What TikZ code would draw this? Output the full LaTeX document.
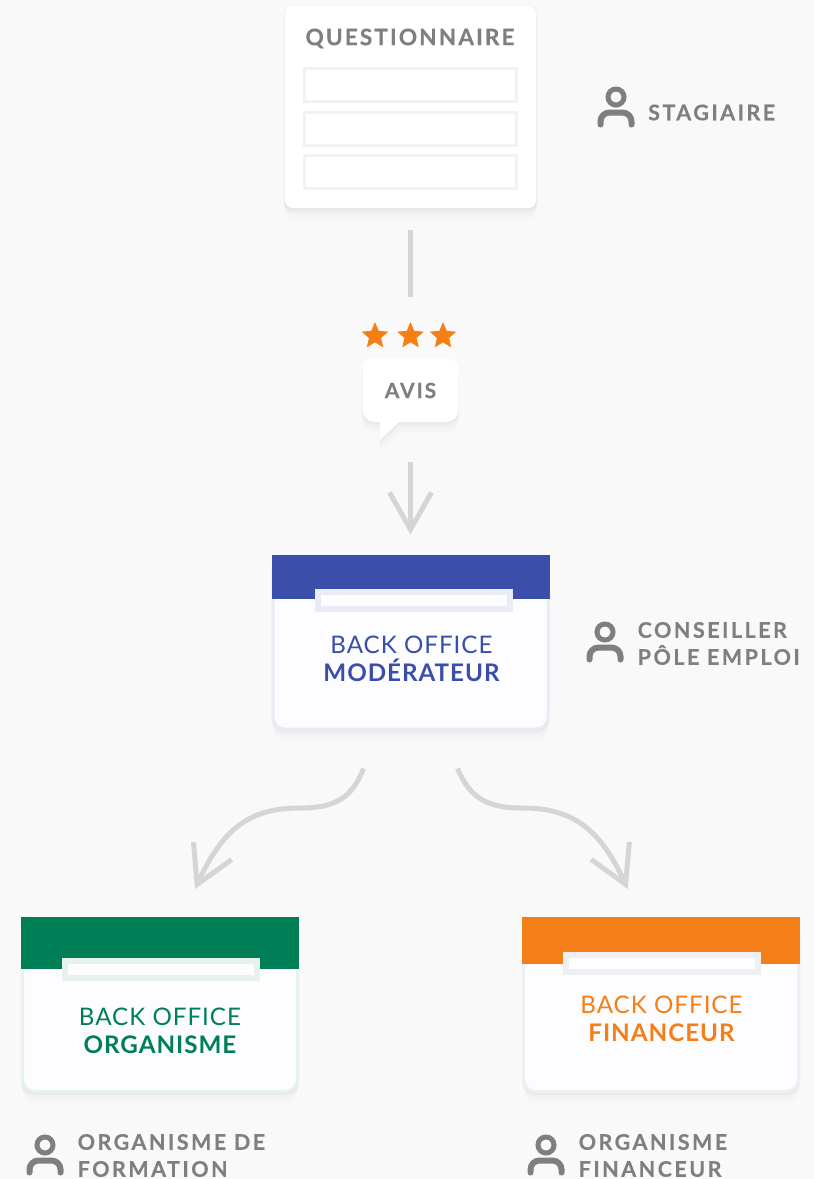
\documentclass[tikz,border=0pt]{standalone}
\usepackage{fontspec}
\setmainfont{Lato}
\newfontfamily\titlefont[LetterSpace=9, BoldFeatures={FakeBold=0.4}]{Lato}
\newfontfamily\spacedfont[LetterSpace=11.5, BoldFeatures={FakeBold=0.3}]{Lato}
\newfontfamily\backfont[LetterSpace=4]{Lato}
\usetikzlibrary{positioning, shapes, arrows.meta, shadows}
\definecolor{pagebg}{HTML}{F9F9F9}
\definecolor{textgrey}{HTML}{7F7F7F}
\definecolor{linkgrey}{HTML}{D5D5D5}
\definecolor{fieldgrey}{HTML}{F2F2F2}
\definecolor{cardfill}{HTML}{FDFDFF}
\definecolor{modblue}{HTML}{3A4EAA}
\definecolor{modedge}{HTML}{E9ECF5}
\definecolor{orggreen}{HTML}{007F56}
\definecolor{orgedge}{HTML}{E6F2EE}
\definecolor{finorange}{HTML}{F47F18}
\definecolor{finedge}{HTML}{EEEFF3}
\definecolor{starorange}{HTML}{F57F14}
\tikzstyle{softshadow} = [general shadow={shadow yshift=-1pt, fill=black, opacity=.02, shadow scale=1.012},
  general shadow={shadow yshift=-3pt, fill=black, opacity=.02, shadow scale=1.008},
  general shadow={shadow yshift=-6pt, fill=black, opacity=.016, shadow scale=1.004},
  general shadow={shadow yshift=-10pt, fill=black, opacity=.01},
  general shadow={shadow yshift=-14pt, fill=black, opacity=.005}]
\tikzstyle{form}   = [rectangle, fill=white, rounded corners=8pt, inner sep=0pt, minimum width=251pt, minimum height=202pt, softshadow]
\tikzstyle{field}  = [rectangle, draw=fieldgrey, fill=white, line width=3pt, inner sep=0pt, minimum width=212pt, minimum height=33pt]
\tikzstyle{card}   = [rectangle, fill=cardfill, line width=3pt, rounded corners=12pt, inner sep=0pt, minimum width=275pt, minimum height=173pt, softshadow]
\tikzstyle{header} = [rectangle, inner sep=0pt, minimum width=278pt, anchor=north]
\tikzstyle{tab}    = [rectangle, fill=cardfill, line width=6pt, inner sep=0pt, minimum width=192pt, minimum height=17pt]
\tikzstyle{cardtext} = [align=center, inner sep=0pt, font=\backfont\fontsize{24.2}{28}\selectfont]
\tikzstyle{role}   = [anchor=west, align=left, inner sep=0pt, text=textgrey, font=\spacedfont\bfseries\fontsize{21.5}{27}\selectfont]
\tikzstyle{etoile} = [star, star points=5, star point ratio=2.2, fill=starorange, inner sep=0pt, minimum size=28pt]
\tikzstyle{link}   = [draw=linkgrey, line width=5pt]
\tikzstyle{arrow}  = [link, -{Straight Barb[length=37pt, width=42pt]}]
\tikzset{personne/.pic={
    \draw [textgrey, line width=5pt] (0,0) circle (8pt);
    \draw [textgrey, line width=6pt, line cap=round, rounded corners=9pt] (-15.5,27.5) -- (-15.5,15.5) -- (15.5,15.5) -- (15.5,27.5);
}}
\def\avistail{(380,421) -- (380,440) -- (400,421) -- cycle}
\begin{document}
\begin{tikzpicture}[x=1pt, y=-1pt]
    \useasboundingbox [fill=pagebg] (0,0) rectangle (814,1179);

    % Questionnaire
    \node [form] (questionnaire) at (410.5,107) {};
    \node [inner sep=0pt, text=textgrey, font=\titlefont\bfseries\fontsize{22.7}{27}\selectfont] (titre) at (410,38.5) {QUESTIONNAIRE};
    \node [field] (champ1) at (410.5,85) {};
    \node [field] (champ2) at (410.5,128.5) {};
    \node [field] (champ3) at (410.5,172) {};

    % Stagiaire
    \pic (iconstag) at (616,97) {personne};
    \node [role] (stagiaire) at (648,112.5) {STAGIAIRE};

    % Avis
    \node [etoile] (star1) at (375,336) {};
    \node [etoile] (star2) at (410.5,336) {};
    \node [etoile] (star3) at (443,336) {};
    \fill [white, softshadow] \avistail;
    \node [rectangle, fill=white, rounded corners=12pt, inner sep=0pt, minimum width=96pt, minimum height=64pt, softshadow] (avis) at (410.5,390) {};
    \fill [white] \avistail;
    \node [inner sep=0pt, text=textgrey, font=\titlefont\bfseries\fontsize{21}{25}\selectfont] (avistexte) at (410.5,390.5) {AVIS};

    % Back office moderateur
    \node [card, draw=modedge] (backmod) at (410.5,642.5) {};
    \node [header, fill=modblue, minimum height=44pt] (headmod) at (backmod.north) {};
    \node [tab, draw=modedge] (tabmod) at (413.5,600.5) {};
    \node [cardtext, text=modblue] (textmod) at (411.5,658.5) {BACK OFFICE\\ {\bfseries MODÉRATEUR}};
    \pic (iconmod) at (605,632) {personne};
    \node [role] (conseiller) at (637.5,643.5) {CONSEILLER\\ PÔLE EMPLOI};

    % Back office organisme
    \node [card, draw=orgedge] (backorg) at (160,1005) {};
    \node [header, fill=orggreen, minimum height=52pt] (headorg) at (backorg.north) {};
    \node [tab, draw=orgedge] (taborg) at (160.5,969) {};
    \node [cardtext, text=orggreen] (textorg) at (160,1030.5) {BACK OFFICE\\ {\bfseries ORGANISME}};
    \pic (iconorg) at (45,1145) {personne};
    \node [role] (organisme) at (77.5,1155.5) {ORGANISME DE\\ FORMATION};

    % Back office financeur
    \node [card, draw=finedge] (backfin) at (661.2,1005) {};
    \node [header, fill=finorange, minimum height=47pt] (headfin) at (backfin.north) {};
    \node [tab, draw=finedge] (tabfin) at (661.5,963) {};
    \node [cardtext, text=finorange] (textfin) at (661.5,1018.5) {BACK OFFICE\\ {\bfseries FINANCEUR}};
    \pic (iconfin) at (546,1145) {personne};
    \node [role] (financeur) at (578.5,1155.5) {ORGANISME\\ FINANCEUR};

    % Liens
    \draw [link, shorten <=22pt, shorten >=24pt] (questionnaire.south) -- (star2.north);
    \draw [arrow, shorten <=40pt, shorten >=20pt] (avis.south) -- (backmod.north);
    \draw [arrow] ([shift={(-47,38)}]backmod.south) .. controls (352,798) and (335,808) .. (300,808) .. controls (252,808) and (224,826) .. ([shift={(35,-28)}]backorg.north);
    \draw [arrow] ([shift={(47,38)}]backmod.south) .. controls (470,798) and (487,808) .. (522,808) .. controls (570,808) and (599,826) .. ([shift={(-33.5,-28)}]backfin.north);
\end{tikzpicture}
\end{document}
